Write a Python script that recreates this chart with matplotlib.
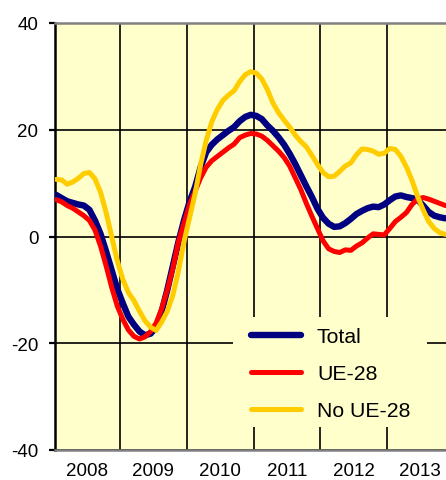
import matplotlib
matplotlib.use("Agg")
import matplotlib.pyplot as plt
from matplotlib.patches import Rectangle
import numpy as np

plt.rcParams['font.family'] = ['Liberation Sans', 'DejaVu Sans']

years = [2008, 2009, 2010, 2011, 2012, 2013]
year_labels = ['2008', '2009', '2010', '2011', '2012', '2013']
y_ticks = [-40, -20, 0, 20, 40]
y_labels = ['-40', '-20', '0', '20', '40']

# Monthly values, Jan 2008 - Nov 2013
total = [7.8, 7.2, 6.6, 6.3, 6.0, 5.8, 5.0, 3.0, 0.5, -2.8, -6.3, -9.8,
         -12.5, -15.0, -16.5, -17.8, -18.5, -18.2, -17.0, -14.0, -10.0, -5.5, -1.0, 3.0,
         6.5, 9.3, 13.0, 15.8, 17.2, 18.2, 19.0, 19.8, 20.5, 21.6, 22.4, 22.8,
         22.6, 22.0, 20.8, 19.8, 18.6, 17.2, 15.5, 13.6, 11.5, 9.4, 7.4, 5.2,
         3.5, 2.4, 1.8, 1.9, 2.5, 3.3, 4.2, 4.8, 5.3, 5.6, 5.5, 6.0,
         6.8, 7.5, 7.7, 7.4, 7.2, 6.9, 5.8, 4.6, 3.9, 3.6, 3.4]
ue28 = [6.9, 6.5, 5.8, 5.3, 4.6, 3.9, 3.0, 1.2, -1.8, -5.5, -9.5, -13.0,
        -15.5, -17.5, -18.7, -19.2, -18.8, -17.8, -16.2, -13.5, -10.0, -6.0, -1.0, 2.5,
        6.0, 8.5, 11.0, 13.0, 14.2, 15.0, 15.8, 16.6, 17.3, 18.5, 19.0, 19.3,
        19.2, 18.8, 18.0, 17.0, 16.0, 14.8, 13.2, 11.0, 8.8, 6.2, 3.8, 1.5,
        -0.8, -2.3, -2.8, -3.0, -2.5, -2.6, -1.8, -1.2, -0.3, 0.5, 0.4, 0.3,
        1.5, 2.8, 3.6, 4.5, 6.0, 7.0, 7.3, 7.0, 6.6, 6.2, 5.8]
no_ue28 = [10.7, 10.6, 9.8, 10.2, 10.9, 11.8, 12.0, 10.8, 8.3, 4.5, 0.0, -4.5,
           -8.0, -10.5, -12.0, -14.0, -15.8, -17.0, -17.6, -16.0, -14.0, -11.0, -6.5, -1.0,
           3.5, 8.0, 13.5, 18.0, 21.5, 23.8, 25.5, 26.5, 27.3, 29.0, 30.3, 30.9,
           30.6, 29.5, 27.5, 25.0, 23.2, 21.8, 20.5, 19.0, 17.8, 16.8, 15.2, 13.5,
           12.0, 11.2, 11.3, 12.2, 13.2, 13.8, 15.3, 16.4, 16.3, 16.0, 15.4, 15.6,
           16.5, 16.3, 15.0, 13.0, 10.5, 7.5, 5.0, 2.8, 1.5, 0.7, 0.4]

x = 2008 + (np.arange(len(total)) + 0.5) / 12.0

bg = '#FFFFCC'
fig = plt.figure(figsize=(4.46, 4.81), dpi=100)
ax = fig.add_axes([55/446, 30/481, 391/446, 427/481])
ax.set_facecolor(bg)
ax.set_axisbelow(True)

ax.plot(x, total, color='#000080', lw=4.6, label='Total', zorder=3, solid_capstyle='round')
ax.plot(x, ue28, color='#FF0000', lw=3.6, label='UE-28', zorder=4, solid_capstyle='round')
ax.plot(x, no_ue28, color='#FFCC00', lw=3.6, label='No UE-28', zorder=5, solid_capstyle='round')

ax.set_xlim(2008.026, 2013.884)
ax.set_ylim(-40, 40)

ax.set_yticks(y_ticks)
ax.set_yticklabels(y_labels)
ax.set_xticks([y + 0.5 for y in years])
ax.set_xticklabels(year_labels)
ax.set_xticks(years[1:], minor=True)
ax.tick_params(axis='x', which='both', length=0, labelsize=13.5, pad=9)
ax.tick_params(axis='y', length=4, width=1.6, labelsize=13.5, pad=8, color='black')
ax.grid(True, axis='x', which='minor', color='black', lw=1.2)
ax.grid(True, axis='y', which='major', color='black', lw=1.2)

for s in ['top', 'bottom']:
    ax.spines[s].set_color('#808080')
    ax.spines[s].set_linewidth(1.8)
ax.spines['left'].set_color('black')
ax.spines['left'].set_linewidth(1.8)
ax.spines['right'].set_visible(False)

# legend background cover
ax.add_patch(Rectangle((0.455, 0.054), 0.496, 0.257, transform=ax.transAxes,
                       facecolor=bg, edgecolor='none', zorder=1))
leg = ax.legend(loc='center', bbox_to_anchor=(0.705, 0.1785), bbox_transform=ax.transAxes,
                frameon=False, fontsize=15.3, handlelength=2.35, handletextpad=0.75,
                labelspacing=0.85, borderpad=0)

fig.savefig('out.png', dpi=100)
